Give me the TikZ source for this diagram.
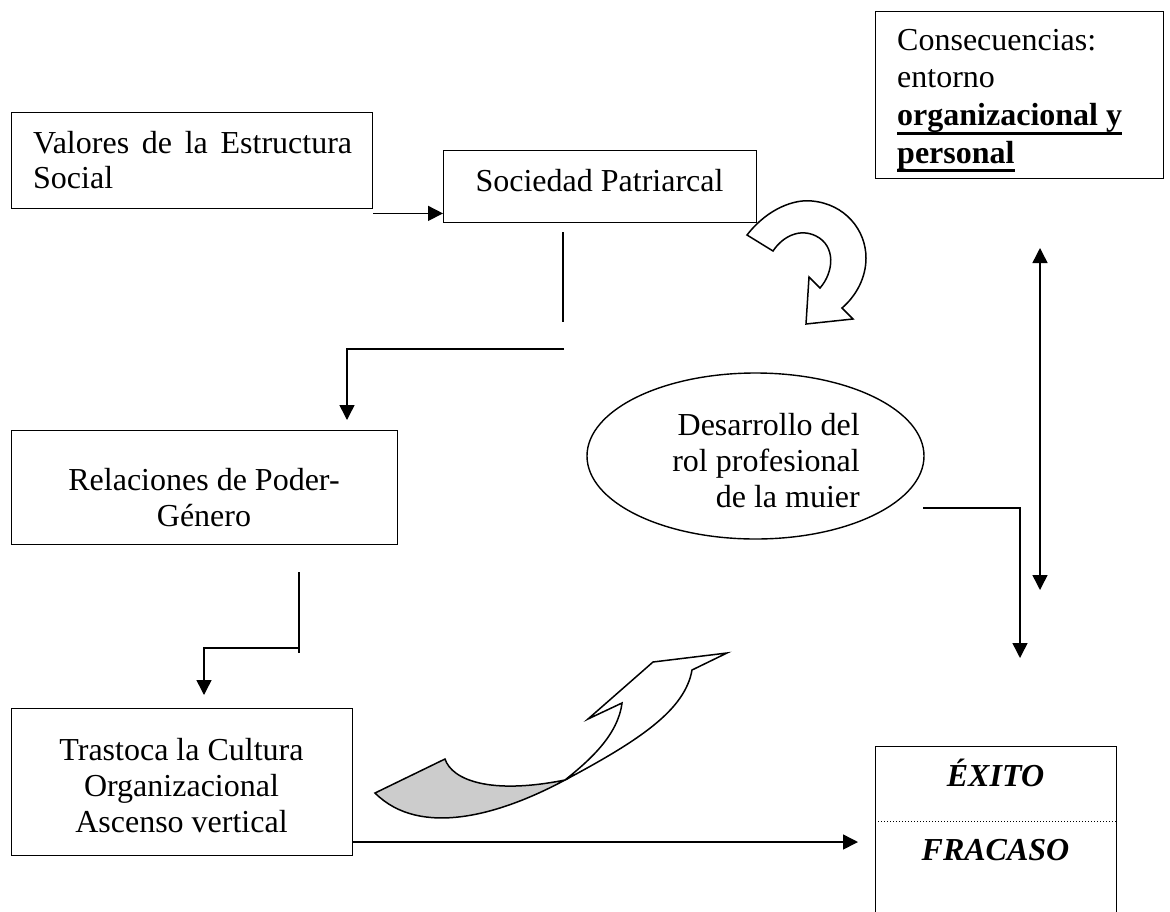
\documentclass[tikz,border=0pt]{standalone}
\usepackage{fontspec}
\setmainfont{Liberation Serif}
\usetikzlibrary{arrows.meta,shapes.geometric}
\newcommand\tp{\rule{0pt}{25pt}}
\newcommand\myul[1]{\setbox0\hbox{#1}\rlap{\rule[-9pt]{\wd0}{3pt}}\box0}
\begin{document}
\begin{tikzpicture}[x=1pt,y=-1pt,
 box/.style={draw, line width=1.4pt, inner sep=0pt, anchor=north west},
 txt/.style={inner sep=0pt, font=\fontsize{32}{36}\selectfont},
 conn/.style={line width=1.5pt},
 arr/.style={line width=1.5pt, -{Triangle[length=15pt,width=15pt]}},
 darr/.style={line width=1.5pt, {Triangle[length=15pt,width=15pt]}-{Triangle[length=15pt,width=15pt]}},
 blockarrow/.style={draw, line width=1.5pt, line join=miter}]
\useasboundingbox (0,0) rectangle (1170,911);
\fill[white] (0,0) rectangle (1170,911);
\clip (0,0) rectangle (1170,911);

% boxes
\node[box, minimum width=361pt, minimum height=96pt] (valores) at (11,112) {};
\node[txt, anchor=north west, text width=319pt, align=justify, font=\fontsize{32}{35.5}\selectfont] (valorest) at (33,128) {\tp Valores de la Estructura\linebreak Social};

\node[box, minimum width=313pt, minimum height=72pt] (sociedad) at (443,150) {};
\node[txt, anchor=north] (sociedadt) at (599.5,166) {\tp Sociedad Patriarcal};

\node[box, minimum width=288pt, minimum height=167pt] (consec) at (875,11) {};
\node[txt, anchor=north west, align=left, font=\fontsize{32}{37.7}\selectfont] (consect) at (897,25) {\tp Consecuencias:\\entorno\\\myul{\bfseries organizacional y}\\\myul{\bfseries personal}};

\node[box, minimum width=386pt, minimum height=114pt] (relaciones) at (11,430) {};
\node[txt, anchor=north, align=center] (relacionest) at (204,465) {\tp Relaciones de Poder-\\Género};

\node[box, minimum width=341pt, minimum height=147pt] (trastoca) at (11,708) {};
\node[txt, anchor=north, align=center] (trastocat) at (181.5,735) {\tp Trastoca la Cultura\\Organizacional\\Ascenso vertical};

\node[box, minimum width=241pt, minimum height=220pt] (exito) at (875,746) {};
\node[txt, anchor=base, font=\fontsize{32}{36}\selectfont\bfseries\itshape] (exitot) at (995.5,786) {ÉXITO};
\node[txt, anchor=base, font=\fontsize{32}{36}\selectfont\bfseries\itshape] (fracasot) at (995.5,860) {FRACASO};
\path (exito.north west) ++(0,75) coordinate (dl);
\path (exito.north east) ++(0,75) coordinate (dr);
\draw[dotted, line width=1pt] (dl) -- (dr);

\node[draw, ellipse, line width=1.4pt, minimum width=337pt, minimum height=166pt, inner sep=0pt] (desarrollo) at (755.5,456) {};
\node[txt, anchor=north east, align=right] (desarrollot) at (860,410) {\tp Desarrollo del\\rol profesional\\de la muier};

% connectors
\coordinate (a1) at ([yshift=-4pt]valores.south east);
\draw[arr] (a1) -- (a1 -| sociedad.west);

\coordinate (s1) at (563,232);
\coordinate (s2) at (563,322);
\coordinate (s3) at (564,349);
\coordinate (s4) at (347,349);
\coordinate (s5) at (347,420);
\draw[conn] (s1) -- (s2);
\draw[arr] (s3) -- (s4) -- (s5);

\coordinate (r1) at (299,572);
\coordinate (r2) at (299,653);
\coordinate (r3) at (299,648);
\coordinate (r4) at (204,648);
\coordinate (r5) at (204,695);
\draw[conn] (r1) -- (r2);
\draw[arr] (r3) -- (r4) -- (r5);

\coordinate (t1) at (352,842);
\coordinate (t2) at (858,842);
\draw[arr] (t1) -- (t2);

\coordinate (d1) at (923,508);
\coordinate (d2) at (1020,508);
\coordinate (d3) at (1020,658);
\draw[arr] (d1) -- (d2) -- (d3);

\coordinate (v1) at (1040,248);
\coordinate (v2) at (1040,590);
\draw[darr] (v1) -- (v2);

% U-turn block arrow
\draw[blockarrow, fill=white] (747,235) .. controls (768,208) and (795,199) .. (812,201) .. controls (845,204) and (866,230) .. (866,258) .. controls (866,278) and (856,296) .. (842,308) -- (853,319) -- (806,324) -- (809,277) -- (820,288) .. controls (834,272) and (836,246) .. (816,236) .. controls (800,228) and (783,236) .. (773,251) -- cycle;

% ribbon arrow
\draw[blockarrow, fill=white] (565,780) .. controls (590,760) and (618,735) .. (622,703) -- (588,719) -- (653,662) -- (727,653) -- (692,670) .. controls (685,710) and (640,740) .. (565,780) -- cycle;
\draw[blockarrow, fill=gray!40] (375,793) -- (445,759) .. controls (452,780) and (490,795) .. (565,780) .. controls (500,815) and (420,838) .. (375,793) -- cycle;
\end{tikzpicture}
\end{document}
